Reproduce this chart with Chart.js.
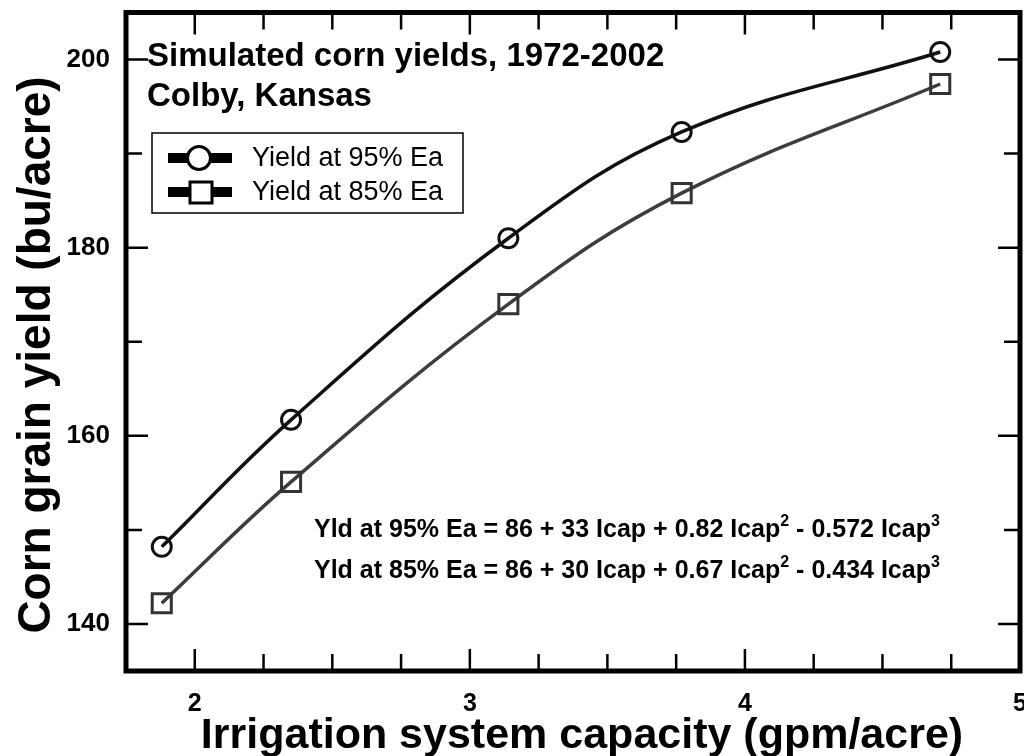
<!DOCTYPE html>
<html>
<head>
<meta charset="utf-8">
<title>Simulated corn yields, Colby, Kansas</title>
<script src="https://cdn.jsdelivr.net/npm/chart.js@4.4.1/dist/chart.umd.min.js"></script>
<style>
    html, body { margin: 0; padding: 0; background: #fff; }
</style>
</head>
<body>
<canvas id="myChart" width="1024" height="756"></canvas>
<script>
// values
const capacity = [1.88, 2.35, 3.14, 3.77, 4.71];
const yield95 = [148.2, 161.7, 181.0, 192.3, 200.8];
const yield85 = [142.2, 155.1, 174.0, 185.8, 197.4];
const seriesLabels = ['Yield at 95% Ea', 'Yield at 85% Ea'];
const xTicks = [2, 3, 4, 5];
const yTicks = [140, 160, 180, 200];
const xTitle = 'Irrigation system capacity (gpm/acre)';
const yTitle = 'Corn grain yield (bu/acre)';
const titleLines = ['Simulated corn yields, 1972-2002', 'Colby, Kansas'];
const equations = [
    ['Yld at 95% Ea = 86 + 33 Icap + 0.82 Icap', '2', ' - 0.572 Icap', '3'],
    ['Yld at 85% Ea = 86 + 30 Icap + 0.67 Icap', '2', ' - 0.434 Icap', '3']
];

const FONT = '"Liberation Sans", Arial, sans-serif';

function toPoints(values) {
    return capacity.map((c, i) => ({ x: c, y: values[i] }));
}

// frame round the plot with inward ticks on all four sides
const framePlugin = {
    id: 'frame',
    afterDraw(chart) {
        const { ctx, chartArea: a, scales: { x, y } } = chart;
        ctx.save();
        ctx.strokeStyle = '#000';
        ctx.lineWidth = 2.5;
        ctx.beginPath();
        for (let v = 2; v < 5; v += 0.25) {
            const px = x.getPixelForValue(v);
            const len = Number.isInteger(v) ? 22 : 17;
            ctx.moveTo(px, a.bottom);
            ctx.lineTo(px, a.bottom - len);
            ctx.moveTo(px, a.top);
            ctx.lineTo(px, a.top + len);
        }
        for (let v = 140; v <= 200; v += 10) {
            const py = y.getPixelForValue(v);
            const len = v % 20 === 0 ? 22 : 16;
            ctx.moveTo(a.left, py);
            ctx.lineTo(a.left + len, py);
            ctx.moveTo(a.right, py);
            ctx.lineTo(a.right - len, py);
        }
        ctx.stroke();
        ctx.lineWidth = 5;
        ctx.strokeRect(a.left, a.top, a.right - a.left, a.bottom - a.top);
        ctx.restore();
    }
};

// axis titles, figure title, legend box and the fitted equations
const notesPlugin = {
    id: 'notes',
    afterDraw(chart) {
        const ctx = chart.ctx;
        ctx.save();
        ctx.fillStyle = '#000';
        ctx.textBaseline = 'alphabetic';

        ctx.font = 'bold 43px ' + FONT;
        ctx.textAlign = 'center';
        ctx.fillText(xTitle, 582, 748);

        ctx.save();
        ctx.translate(50, 355);
        ctx.rotate(-Math.PI / 2);
        ctx.font = 'bold 46px ' + FONT;
        ctx.fillText(yTitle, 0, 0);
        ctx.restore();

        ctx.textAlign = 'left';
        ctx.font = 'bold 33px ' + FONT;
        ctx.fillText(titleLines[0], 147, 66);
        ctx.fillText(titleLines[1], 147, 106);

        // legend
        ctx.lineWidth = 1.5;
        ctx.strokeStyle = '#000';
        ctx.strokeRect(152, 133, 311, 80);
        chart.data.datasets.forEach((ds, i) => {
            const rowY = 158 + i * 34;
            ctx.lineWidth = 10;
            ctx.beginPath();
            ctx.moveTo(168, rowY);
            ctx.lineTo(232, rowY);
            ctx.stroke();
            ctx.lineWidth = 3;
            ctx.fillStyle = '#fff';
            ctx.beginPath();
            if (ds.pointStyle === 'rect') {
                ctx.rect(190, rowY - 10, 22, 21);
            } else {
                ctx.arc(199, rowY, 11.5, 0, 2 * Math.PI);
            }
            ctx.fill();
            ctx.stroke();
            ctx.fillStyle = '#000';
            ctx.font = '27px ' + FONT;
            ctx.textBaseline = 'middle';
            ctx.fillText(ds.label, 252, rowY + 1);
            ctx.textBaseline = 'alphabetic';
        });

        // equations with superscripts
        equations.forEach((parts, i) => {
            let x = 314;
            const base = 537 + i * 41;
            parts.forEach((p, k) => {
                const sup = k % 2 === 1;
                ctx.font = 'bold ' + (sup ? 16 : 25) + 'px ' + FONT;
                ctx.fillText(p, x, sup ? base - 11 : base);
                x += ctx.measureText(p).width;
            });
        });
        ctx.restore();
    }
};

let canvas = document.getElementById('myChart');
let ctx = canvas.getContext('2d');

let chart = new Chart(ctx, {
    type: 'line',
    data: {
        datasets: [
            {
                label: seriesLabels[0],
                data: toPoints(yield95),
                borderColor: '#111',
                borderWidth: 3.5,
                tension: 0.4,
                pointStyle: 'circle',
                pointRadius: 9.5,
                pointBorderWidth: 3,
                pointBorderColor: '#111',
                pointBackgroundColor: 'rgba(0,0,0,0)'
            },
            {
                label: seriesLabels[1],
                data: toPoints(yield85),
                borderColor: '#3d3d3d',
                borderWidth: 3.5,
                tension: 0.4,
                pointStyle: 'rect',
                pointRadius: 13.5,
                pointBorderWidth: 3,
                pointBorderColor: '#333',
                pointBackgroundColor: 'rgba(0,0,0,0)'
            }
        ]
    },
    options: {
        responsive: false,
        animation: false,
        layout: { autoPadding: false, padding: { top: 12.5, right: 4, bottom: 0, left: 0 } },
        plugins: { legend: { display: false }, tooltip: { enabled: false } },
        scales: {
            x: {
                type: 'linear',
                min: 1.75,
                max: 5,
                afterBuildTicks: s => { s.ticks = xTicks.map(v => ({ value: v })); },
                afterFit: s => { s.height = 85; s.paddingLeft = 0; s.paddingRight = 0; },
                grid: { display: false, drawTicks: false },
                border: { display: false },
                ticks: {
                    maxRotation: 0,
                    autoSkip: false,
                    padding: 18,
                    color: '#000',
                    font: { family: FONT, size: 25, weight: 'bold' }
                }
            },
            y: {
                min: 135,
                max: 205,
                afterBuildTicks: s => { s.ticks = yTicks.map(v => ({ value: v })); },
                afterFit: s => { s.width = 126; s.paddingTop = 0; s.paddingBottom = 0; },
                grid: { display: false, drawTicks: false },
                border: { display: false },
                ticks: {
                    padding: 16,
                    color: '#000',
                    font: { family: FONT, size: 26, weight: 'bold' }
                }
            }
        }
    },
    plugins: [framePlugin, notesPlugin]
});
</script>
</body>
</html>
